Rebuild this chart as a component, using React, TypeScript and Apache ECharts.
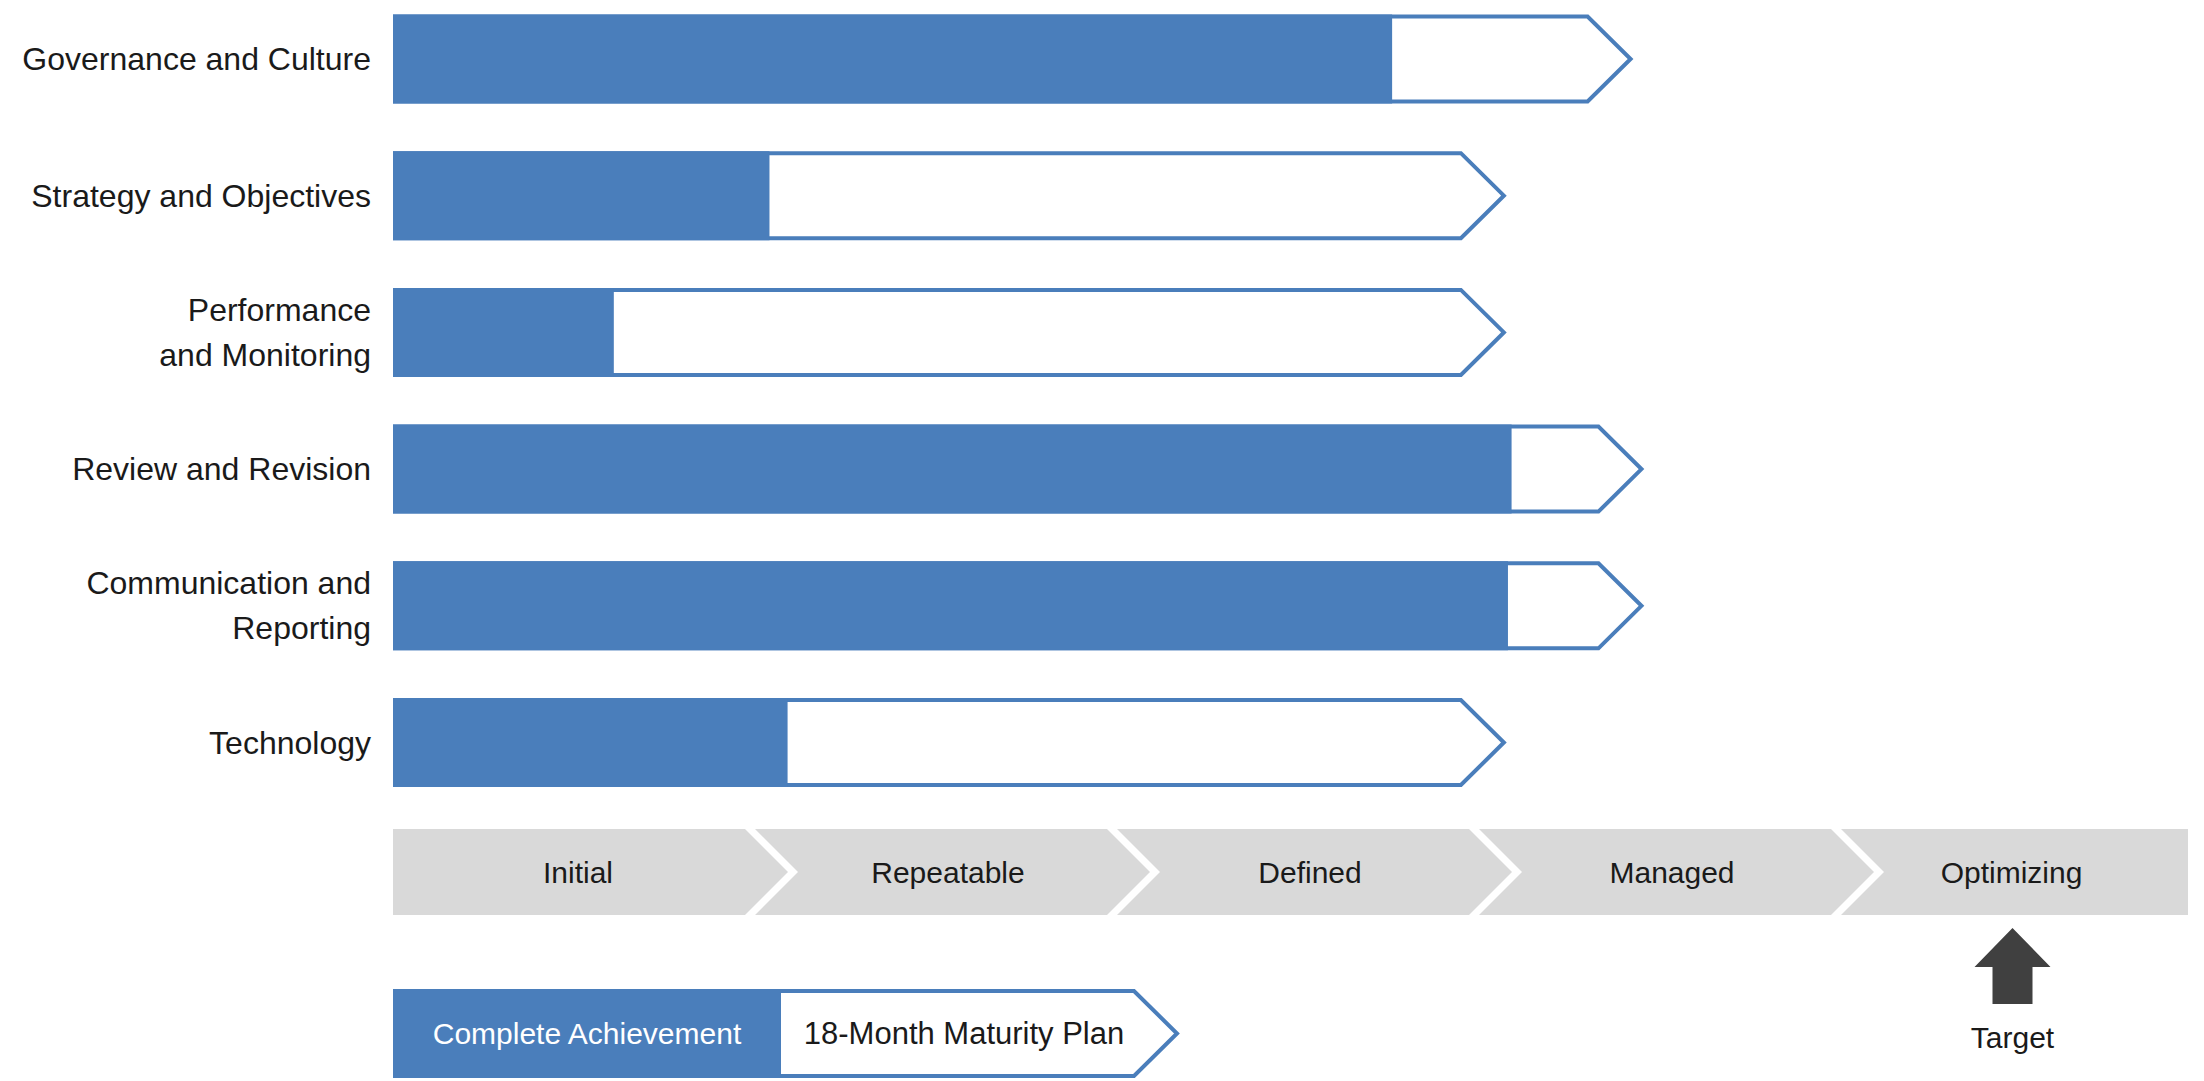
import React, { useEffect, useRef } from "react";
import * as echarts from "echarts";

// ---- data ----
const categories = [
  "Governance and Culture",
  "Strategy and Objectives",
  "Performance\nand Monitoring",
  "Review and Revision",
  "Communication and\nReporting",
  "Technology",
];
// maturity level reached (0 = start of "Initial", 5 = end of "Optimizing")
const achievement = [2.76, 1.04, 0.61, 3.09, 3.08, 1.09];
const plan = [3.3, 2.95, 2.95, 3.33, 3.33, 2.95];
const stages = ["Initial", "Repeatable", "Defined", "Managed", "Optimizing"];
const targetStage = 4;
const targetLabel = "Target";
const legendLabels = ["Complete Achievement", "18-Month Maturity Plan"];

const BLUE = "#4A7EBB";
const GREY = "#D9D9D9";
const DARK = "#404040";
const TEXT = "#1a1a1a";
const FONT = '"Liberation Sans", Arial, sans-serif';

export default function App() {
  const ref = useRef<HTMLDivElement>(null);
  useEffect(() => {
    if (!ref.current) return;
    const chart = echarts.init(ref.current, null, { renderer: "svg" });

    const legendTop = 991;
    const legendBottom = 1076;
    const legendMid = (legendTop + legendBottom) / 2;

    const option: any = {
      animation: false,
      backgroundColor: "#ffffff",
      grid: [
        { left: 393, width: 1810, top: 59, height: 683.5 },
        { left: 393, width: 1810, top: 829, height: 86 },
      ],
      xAxis: [
        { gridIndex: 0, type: "value", min: 0, max: 5, show: false },
        { gridIndex: 1, type: "value", min: 0, max: 5, show: false },
      ],
      yAxis: [
        {
          gridIndex: 0,
          type: "category",
          data: categories,
          inverse: true,
          boundaryGap: false,
          axisLine: { show: false },
          axisTick: { show: false },
          splitLine: { show: false },
          axisLabel: {
            margin: 22,
            fontSize: 32,
            color: TEXT,
            fontFamily: FONT,
            lineHeight: 45,
            align: "right",
          },
        },
        { gridIndex: 1, type: "value", min: 0, max: 1, show: false },
      ],
      series: [
        {
          type: "custom",
          xAxisIndex: 0,
          yAxisIndex: 0,
          clip: false,
          z: 1,
          data: plan.map((v, i) => [v, i]),
          encode: { x: 0, y: 1 },
          renderItem: (params: any, api: any) => {
            const v = api.value(0);
            const idx = api.value(1);
            const s = api.coord([0, idx]);
            const e = api.coord([v, idx]);
            const cy = e[1];
            const h = 85;
            const tip = 43;
            const x0 = s[0] + 2;
            return {
              type: "polygon",
              shape: {
                points: [
                  [x0, cy - h / 2],
                  [e[0], cy - h / 2],
                  [e[0] + tip, cy],
                  [e[0], cy + h / 2],
                  [x0, cy + h / 2],
                ],
              },
              style: { fill: "#ffffff", stroke: BLUE, lineWidth: 4, lineJoin: "miter" },
            };
          },
        },
        {
          type: "bar",
          xAxisIndex: 0,
          yAxisIndex: 0,
          data: achievement,
          barWidth: 89,
          clip: false,
          z: 2,
          itemStyle: { color: BLUE },
        },
        {
          type: "custom",
          xAxisIndex: 1,
          yAxisIndex: 1,
          clip: false,
          z: 1,
          data: stages.map((s, i) => [i, 0]),
          encode: { x: 0, y: 1 },
          renderItem: (params: any, api: any) => {
            const k = params.dataIndex;
            const last = k === stages.length - 1;
            const pTop = api.coord([k, 1]);
            const pBot = api.coord([k, 0]);
            const xs = pTop[0];
            const top = pTop[1];
            const bottom = pBot[1];
            const xe = api.coord([k + 1, 0])[0] - (last ? 15 : 10);
            const cy = (top + bottom) / 2;
            const d = 43;
            const pts: number[][] = [[xs, top], [xe, top]];
            if (!last) pts.push([xe + d, cy]);
            pts.push([xe, bottom], [xs, bottom]);
            if (k > 0) pts.push([xs + d, cy]);
            const tx = (xs + xe) / 2 + (k === 0 ? 9 : last ? -3 : 17);
            const children: any[] = [
              {
                type: "polygon",
                shape: { points: pts },
                style: { fill: GREY },
              },
              {
                type: "text",
                x: tx,
                y: cy,
                style: {
                  text: stages[k],
                  fill: TEXT,
                  font: `30px ${FONT}`,
                  align: "center",
                  verticalAlign: "middle",
                },
              },
            ];
            if (k === targetStage) {
              const ax = (xs + xe) / 2 - 2;
              const b = bottom;
              children.push({
                type: "polygon",
                shape: {
                  points: [
                    [ax, b + 13],
                    [ax + 38, b + 52],
                    [ax + 20, b + 52],
                    [ax + 20, b + 89],
                    [ax - 20, b + 89],
                    [ax - 20, b + 52],
                    [ax - 38, b + 52],
                  ],
                },
                style: { fill: DARK },
              });
              children.push({
                type: "text",
                x: ax,
                y: b + 122,
                style: {
                  text: targetLabel,
                  fill: TEXT,
                  font: `30px ${FONT}`,
                  align: "center",
                  verticalAlign: "middle",
                },
              });
            }
            return { type: "group", children };
          },
        },
      ],
      graphic: [
        {
          type: "polygon",
          shape: {
            points: [
              [395, legendTop],
              [1134, legendTop],
              [1177, legendMid],
              [1134, legendBottom],
              [395, legendBottom],
            ],
          },
          style: { fill: "#ffffff", stroke: BLUE, lineWidth: 4, lineJoin: "miter" },
        },
        {
          type: "rect",
          shape: { x: 393, y: 989, width: 388, height: 89 },
          style: { fill: BLUE },
        },
        {
          type: "text",
          x: 587,
          y: legendMid,
          style: {
            text: legendLabels[0],
            fill: "#ffffff",
            font: `30px ${FONT}`,
            align: "center",
            verticalAlign: "middle",
            textAlign: "center",
            textVerticalAlign: "middle",
          },
        },
        {
          type: "text",
          x: 964,
          y: legendMid,
          style: {
            text: legendLabels[1],
            fill: TEXT,
            font: `31px ${FONT}`,
            align: "center",
            verticalAlign: "middle",
            textAlign: "center",
            textVerticalAlign: "middle",
          },
        },
      ],
    };
    chart.setOption(option);
    return () => chart.dispose();
  }, []);
  return (
    <div
      ref={ref}
      style={{ position: "fixed", left: 0, top: 0, width: 2204, height: 1081, background: "#fff" }}
    />
  );
}
